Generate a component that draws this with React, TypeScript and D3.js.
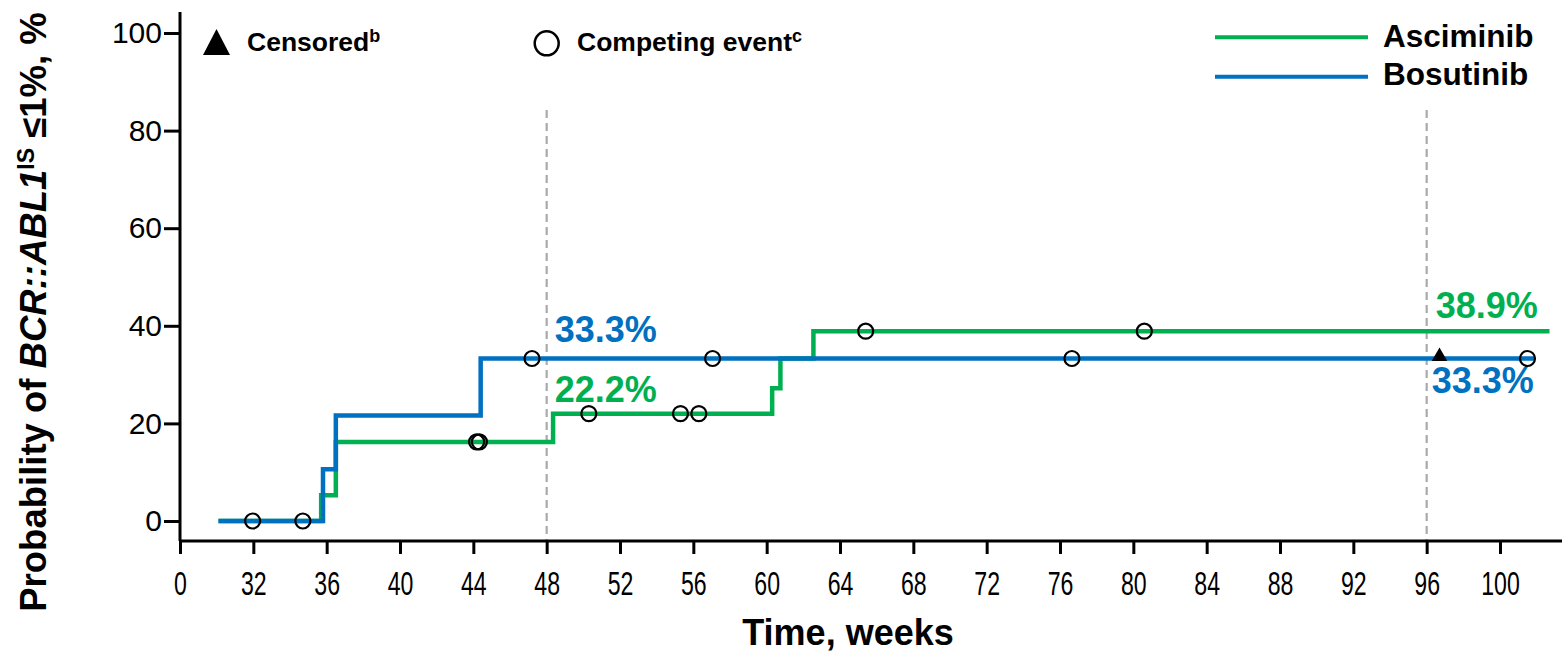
import React, { useEffect, useRef } from "react";
import * as d3 from "d3";

const W = 1562;
const H = 652;
const GREEN = "#00b050";
const BLUE = "#0070c0";

// step curves: week where each level starts and the cumulative probability (%)
const asciminibTimes = [30.1, 35.7, 36.5, 48.35, 60.3, 60.75, 62.55];
const asciminibProb = [0, 5.3, 16.2, 22.0, 27.2, 33.3, 38.9];
const asciminibEnd = 102.7;
const bosutinibTimes = [30.1, 35.8, 36.5, 44.4];
const bosutinibProb = [0, 10.6, 21.6, 33.3];
const bosutinibEnd = 101.9;

// marks on the curves (weeks)
const asciminibCompeting = [44.18, 44.33, 50.3, 55.3, 56.3, 65.4, 80.6];
const bosutinibCompeting = [31.96, 34.7, 47.2, 57.05, 76.65, 101.5];
const bosutinibCensored = [96.7];

const xTicks = [28, 32, 36, 40, 44, 48, 52, 56, 60, 64, 68, 72, 76, 80, 84, 88, 92, 96, 100];
const xTickLabels = ["0", "32", "36", "40", "44", "48", "52", "56", "60", "64", "68", "72", "76", "80", "84", "88", "92", "96", "100"];
const yTicks = [0, 20, 40, 60, 80, 100];
const landmarkWeeks = [48, 96];

const valueAt = (times: number[], probs: number[], t: number) =>
  probs[Math.max(0, d3.bisectRight(times, t) - 1)];

const FONT = "'Liberation Sans', Arial, sans-serif";

export default function App() {
  const ref = useRef<SVGGElement>(null);

  useEffect(() => {
    const svg = d3.select(ref.current);
    svg.selectAll("*").remove();

    const x = d3.scaleLinear().domain([28, 100]).range([180, 1500]);
    const y = d3.scaleLinear().domain([0, 100]).range([521, 33]);
    const axisY = 541;

    // landmark dashed lines
    svg.selectAll("line.landmark")
      .data(landmarkWeeks)
      .enter()
      .append("line")
      .attr("x1", d => x(d)).attr("x2", d => x(d))
      .attr("y1", 110).attr("y2", axisY)
      .attr("stroke", "#aaaaaa")
      .attr("stroke-width", 2.2)
      .attr("stroke-dasharray", "8,5");

    // X axis
    const gx = svg.append("g")
      .attr("transform", "translate(0," + axisY + ")")
      .call(d3.axisBottom(x)
        .tickValues(xTicks)
        .tickFormat((d, i) => xTickLabels[i])
        .tickSize(13)
        .tickPadding(17));
    gx.select(".domain").attr("d", "M180,0H1562").attr("stroke-width", 3);
    gx.selectAll(".tick line").attr("stroke-width", 3);
    gx.selectAll(".tick text")
      .style("font-family", FONT)
      .style("font-size", "34px")
      .attr("fill", "#000")
      .attr("transform", "scale(0.68,1)");

    // Y axis
    const gy = svg.append("g")
      .attr("transform", "translate(180,0)")
      .call(d3.axisLeft(y)
        .tickValues(yTicks)
        .tickSize(16)
        .tickPadding(2));
    gy.select(".domain").attr("d", "M0,12V" + axisY).attr("stroke-width", 3);
    gy.selectAll(".tick line").attr("stroke-width", 3);
    gy.selectAll(".tick text")
      .style("font-family", FONT)
      .style("font-size", "30px")
      .attr("fill", "#000");

    // step curves
    const line = d3.line<[number, number]>()
      .x(d => x(d[0]))
      .y(d => y(d[1]))
      .curve(d3.curveStepAfter);

    const series = [
      { times: asciminibTimes, probs: asciminibProb, end: asciminibEnd, color: GREEN },
      { times: bosutinibTimes, probs: bosutinibProb, end: bosutinibEnd, color: BLUE },
    ];
    series.forEach(s => {
      const pts: [number, number][] = s.times.map((t, i) => [t, s.probs[i]]);
      pts.push([s.end, s.probs[s.probs.length - 1]]);
      svg.append("path")
        .datum(pts)
        .attr("d", line)
        .attr("fill", "none")
        .attr("stroke", s.color)
        .attr("stroke-width", 4.5);
    });

    // competing event circles
    const circles = [
      ...asciminibCompeting.map(t => [t, valueAt(asciminibTimes, asciminibProb, t)]),
      ...bosutinibCompeting.map(t => [t, valueAt(bosutinibTimes, bosutinibProb, t)]),
    ];
    svg.selectAll("circle.comp")
      .data(circles)
      .enter()
      .append("circle")
      .attr("cx", d => x(d[0]))
      .attr("cy", d => y(d[1]))
      .attr("r", 7.5)
      .attr("fill", "none")
      .attr("stroke", "#000")
      .attr("stroke-width", 2.2);

    // censored triangles
    const tri = d3.symbol().type(d3.symbolTriangle).size(105);
    svg.selectAll("path.cens")
      .data(bosutinibCensored)
      .enter()
      .append("path")
      .attr("d", tri)
      .attr("transform", d => "translate(" + x(d) + "," + (y(valueAt(bosutinibTimes, bosutinibProb, d)) - 2) + ")")
      .attr("fill", "#000");

    // percentage annotations at landmarks
    const annot = [
      { text: "33.3%", wk: 48, val: 33.3, color: BLUE, dx: 8, dy: -16 },
      { text: "22.2%", wk: 48, val: 22.2, color: GREEN, dx: 8, dy: -11 },
      { text: "38.9%", wk: 96, val: 38.9, color: GREEN, dx: 9, dy: -13 },
      { text: "33.3%", wk: 96, val: 33.3, color: BLUE, dx: 5, dy: 35 },
    ];
    svg.selectAll("text.annot")
      .data(annot)
      .enter()
      .append("text")
      .attr("x", d => x(d.wk) + d.dx)
      .attr("y", d => y(d.val) + d.dy)
      .attr("fill", d => d.color)
      .style("font-size", "36px")
      .style("font-weight", "bold")
      .style("font-family", FONT)
      .text(d => d.text);
  }, []);

  return (
    <svg
      width={W}
      height={H}
      style={{ position: "absolute", left: 0, top: 0, background: "#fff" }}
    >
      <g ref={ref} />
      <g fontFamily={FONT} fontWeight="bold" fill="#000">
        {/* symbol legend */}
        <polygon points="216.5,29 203,55 230,55" fill="#000" />
        <text x={247} y={51} fontSize={26.5}>
          Censored<tspan fontSize={18} dy={-9}>b</tspan>
        </text>
        <circle cx={546.7} cy={43.3} r={12} fill="none" stroke="#000" strokeWidth={2.5} />
        <text x={577} y={51} fontSize={26.5}>
          Competing event<tspan fontSize={18} dy={-9}>c</tspan>
        </text>

        {/* series legend */}
        <line x1={1215} x2={1368} y1={37.3} y2={37.3} stroke={GREEN} strokeWidth={4} />
        <line x1={1215} x2={1368} y1={76.7} y2={76.7} stroke={BLUE} strokeWidth={4} />
        <text x={1383} y={47} fontSize={31.5}>Asciminib</text>
        <text x={1383} y={85} fontSize={31.5}>Bosutinib</text>

        {/* axis titles */}
        <text x={848} y={645} fontSize={36} textAnchor="middle">Time, weeks</text>
        <text transform="translate(46,312) rotate(-90)" fontSize={36.5} textAnchor="middle">
          Probability of <tspan fontStyle="italic">BCR::ABL1</tspan>
          <tspan fontSize={23} dy={-12}>IS</tspan>
          <tspan dy={12}> ≤1%,  %</tspan>
        </text>
      </g>
    </svg>
  );
}
